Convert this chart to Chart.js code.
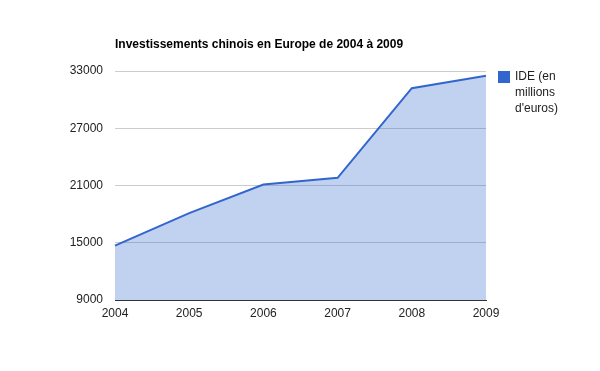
<!DOCTYPE html>
<html>
<head>
<meta charset="utf-8">
<script src="https://cdn.jsdelivr.net/npm/chart.js@4.4.0/dist/chart.umd.min.js"></script>
<style>
  html, body { margin: 0; padding: 0; background: #fff; }
  #wrap { width: 600px; height: 371px; }
</style>
</head>
<body>
<div id="wrap"><canvas id="ideChart" width="600" height="371"></canvas></div>
<script>
// data
const years = ['2004', '2005', '2006', '2007', '2008', '2009'];
const ideValues = [14700, 18100, 21100, 21800, 31200, 32500];
const yTicks = [9000, 15000, 21000, 27000, 33000];
const chartTitle = 'Investissements chinois en Europe de 2004 à 2009';
const seriesLabel = "IDE (en millions d'euros)";
const legendLines = ['IDE (en', 'millions', "d'euros)"];

const FONT = 'Arial, "Liberation Sans", sans-serif';
const BLUE = '#3366cc';

// title + wrapped legend, drawn like the google chart
const decorations = {
    id: 'decorations',
    afterDraw(chart) {
        const ctx = chart.ctx;
        const area = chart.chartArea;
        ctx.save();
        ctx.fillStyle = '#000';
        ctx.font = 'bold 12px ' + FONT;
        ctx.textBaseline = 'middle';
        ctx.textAlign = 'left';
        ctx.fillText(chartTitle, area.left, 45);

        ctx.fillStyle = BLUE;
        ctx.fillRect(498, 71, 12, 12);
        ctx.fillStyle = '#222';
        ctx.font = '12px ' + FONT;
        legendLines.forEach(function (line, i) {
            ctx.fillText(line, 515, 77 + i * 16);
        });
        ctx.restore();
    }
};

const ctx = document.getElementById('ideChart').getContext('2d');
new Chart(ctx, {
    type: 'line',
    data: {
        labels: years,
        datasets: [{
            label: seriesLabel,
            data: ideValues,
            borderColor: BLUE,
            borderWidth: 2,
            backgroundColor: 'rgba(51, 102, 204, 0.3)',
            fill: 'start',
            pointRadius: 0,
            pointHoverRadius: 0,
            tension: 0
        }]
    },
    options: {
        responsive: false,
        animation: false,
        layout: { padding: { top: 71, right: 114, left: 0, bottom: 0 } },
        plugins: {
            legend: { display: false },
            title: { display: false },
            tooltip: { enabled: false }
        },
        scales: {
            x: {
                offset: false,
                grid: { display: false, drawTicks: false },
                border: { display: true, color: '#333', width: 1 },
                ticks: {
                    color: '#222',
                    font: { family: FONT, size: 12 },
                    padding: 6,
                    maxRotation: 0,
                    autoSkip: false
                },
                afterFit(scale) { scale.height = 71; }
            },
            y: {
                min: 9000,
                max: 33000,
                border: { display: false },
                grid: {
                    drawTicks: false,
                    color: function (c) {
                        return c.tick && c.tick.value === 9000 ? '#333' : '#cccccc';
                    }
                },
                afterBuildTicks(scale) {
                    scale.ticks = yTicks.map(v => ({ value: v }));
                },
                ticks: {
                    color: '#222',
                    font: { family: FONT, size: 12 },
                    padding: 12,
                    callback: v => String(v)
                },
                afterFit(scale) { scale.width = 115; }
            }
        }
    },
    plugins: [decorations]
});
</script>
</body>
</html>
